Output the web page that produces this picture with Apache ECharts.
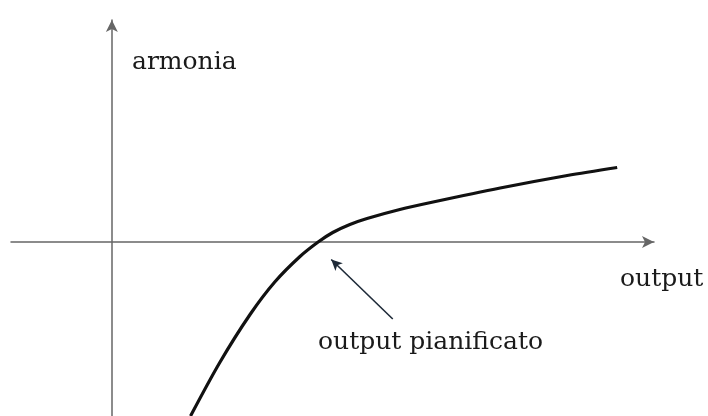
<!DOCTYPE html>
<html>
<head>
<meta charset="utf-8">
<script src="https://cdn.jsdelivr.net/npm/echarts@6/dist/echarts.min.js"></script>
<style>
  html, body { margin: 0; padding: 0; background: #ffffff; }
  #chart { width: 708px; height: 416px; }
</style>
</head>
<body>
<div id="chart"></div>
<script>
// Output level (horizontal) and harmony (vertical) along the curve
const outputValues  = [1.56, 2.14, 2.74, 3.23, 3.73, 4.09, 4.38, 4.72, 5.06, 5.71, 6.37, 7.70, 9.03, 10.02];
const harmonyValues = [-3.48, -2.41, -1.45, -0.80, -0.29, 0, 0.19, 0.35, 0.47, 0.65, 0.80, 1.08, 1.33, 1.49];

// Pointer toward the planned output (tail, head) in data units
const pointerTail = [5.57, -1.54];
const pointerHead = [4.35, -0.35];

// Axis ranges
const xRange = [-2, 10.75];
const yRange = [-3.48, 4.44];

// Text labels
const yAxisTitle = 'armonia';
const xAxisTitle = 'output';
const pointerText = 'output pianificato';

const curve = outputValues.map((x, i) => [x, harmonyValues[i]]);

const serif = 'DejaVu Serif';
const textColor = '#1a1a1a';
const axisColor = '#666666';

const chart = echarts.init(document.getElementById('chart'), null, { renderer: 'canvas' });

chart.setOption({
  animation: false,
  backgroundColor: '#ffffff',
  grid: { left: 11, right: 54, top: 20, bottom: 0, containLabel: false },
  xAxis: {
    type: 'value',
    min: xRange[0],
    max: xRange[1],
    axisLine: {
      onZero: true,
      lineStyle: { color: axisColor, width: 1.5 },
      symbol: ['none', 'arrow'],
      symbolSize: [9, 12]
    },
    axisTick: { show: false },
    axisLabel: { show: false },
    splitLine: { show: false }
  },
  yAxis: {
    type: 'value',
    min: yRange[0],
    max: yRange[1],
    axisLine: {
      onZero: true,
      lineStyle: { color: axisColor, width: 1.5 },
      symbol: ['none', 'arrow'],
      symbolSize: [9, 12]
    },
    axisTick: { show: false },
    axisLabel: { show: false },
    splitLine: { show: false }
  },
  series: [{
    type: 'line',
    data: curve,
    smooth: 0.3,
    showSymbol: false,
    lineStyle: { color: '#111', width: 3.2 },
    clip: true,
    markLine: {
      silent: true,
      symbol: ['none', 'arrow'],
      symbolSize: [8, 11],
      label: { show: false },
      lineStyle: { color: '#1e2a38', width: 1.6, type: 'solid' },
      data: [[{ coord: pointerTail }, { coord: pointerHead }]]
    }
  }],
  graphic: [
    {
      type: 'text', left: 132, top: 50,
      style: { text: yAxisTitle, font: '25px "' + serif + '"', fill: textColor }
    },
    {
      type: 'text', left: 620, top: 267,
      style: { text: xAxisTitle, font: '25px "' + serif + '"', fill: textColor }
    },
    {
      type: 'text', left: 318, top: 330,
      style: { text: pointerText, font: '25px "' + serif + '"', fill: textColor }
    }
  ]
});
</script>
</body>
</html>
